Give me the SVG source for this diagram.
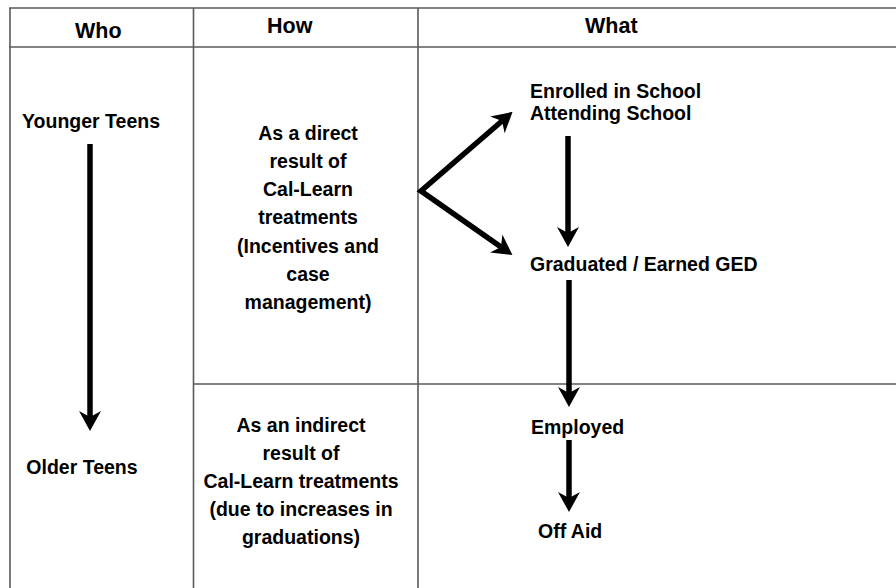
<svg xmlns="http://www.w3.org/2000/svg" width="896" height="588" viewBox="0 0 896 588">
  <style>
    .grid { stroke: #5a5a5a; stroke-width: 1.6; fill: none; }
    .hdr { font-family: "Liberation Sans", Arial, sans-serif; font-weight: bold; font-size: 21.5px; fill: #000; }
    .txt { font-family: "Liberation Sans", Arial, sans-serif; font-weight: bold; font-size: 19.5px; fill: #000; }
    .mid { text-anchor: middle; }
    .arr { stroke: #000; stroke-width: 5.5; fill: none; stroke-linejoin: miter; marker-end: url(#head); }
  </style>
  <defs>
    <marker id="head" markerUnits="userSpaceOnUse" viewBox="0 0 20 22" markerWidth="20" markerHeight="22" refX="6" refY="11" orient="auto-start-reverse">
      <path d="M0,0 L20,11 L0,22 L6,11 Z" fill="#000"/>
    </marker>
  </defs>
  <rect width="896" height="588" fill="#fff"/>

  <g id="table">
    <line class="grid" x1="9" y1="8" x2="896" y2="8"/>
    <line class="grid" x1="9" y1="47" x2="896" y2="47"/>
    <line class="grid" x1="10" y1="8" x2="10" y2="588"/>
    <line class="grid" x1="193.5" y1="8" x2="193.5" y2="588"/>
    <line class="grid" x1="418" y1="8" x2="418" y2="588"/>
    <line class="grid" x1="193.5" y1="384" x2="896" y2="384"/>
  </g>

  <g id="header-who"><text class="hdr" x="75" y="38">Who</text></g>
  <g id="header-how"><text class="hdr" x="267" y="33">How</text></g>
  <g id="header-what"><text class="hdr" x="585" y="33">What</text></g>

  <g id="younger-teens"><text class="txt mid" x="91" y="128">Younger Teens</text></g>
  <g id="older-teens"><text class="txt mid" x="82" y="474">Older Teens</text></g>

  <g id="how-direct">
    <text class="txt mid" x="308" y="140">As a direct</text>
    <text class="txt mid" x="308" y="168">result of</text>
    <text class="txt mid" x="308" y="196">Cal-Learn</text>
    <text class="txt mid" x="308" y="224">treatments</text>
    <text class="txt mid" x="308" y="253">(Incentives and</text>
    <text class="txt mid" x="308" y="281">case</text>
    <text class="txt mid" x="308" y="309">management)</text>
  </g>

  <g id="how-indirect">
    <text class="txt mid" x="301" y="432">As an indirect</text>
    <text class="txt mid" x="301" y="460">result of</text>
    <text class="txt mid" x="301" y="488">Cal-Learn treatments</text>
    <text class="txt mid" x="301" y="516">(due to increases in</text>
    <text class="txt mid" x="301" y="544">graduations)</text>
  </g>

  <g id="enrolled">
    <text class="txt" x="530" y="98">Enrolled in School</text>
    <text class="txt" x="530" y="120">Attending School</text>
  </g>
  <g id="graduated"><text class="txt" x="530" y="271">Graduated / Earned GED</text></g>
  <g id="employed"><text class="txt" x="531" y="434">Employed</text></g>
  <g id="off-aid"><text class="txt" x="538" y="538">Off Aid</text></g>

  <g id="connectors">
    <line class="arr" x1="90" y1="144" x2="90" y2="417"/>
    <path class="arr" style="marker-start:url(#head)" d="M502,121 L421,191 L501,247"/>
    <line class="arr" x1="568" y1="136" x2="568" y2="233"/>
    <line class="arr" x1="569" y1="280" x2="569" y2="393"/>
    <line class="arr" x1="569" y1="440" x2="569" y2="498"/>
  </g>
</svg>
